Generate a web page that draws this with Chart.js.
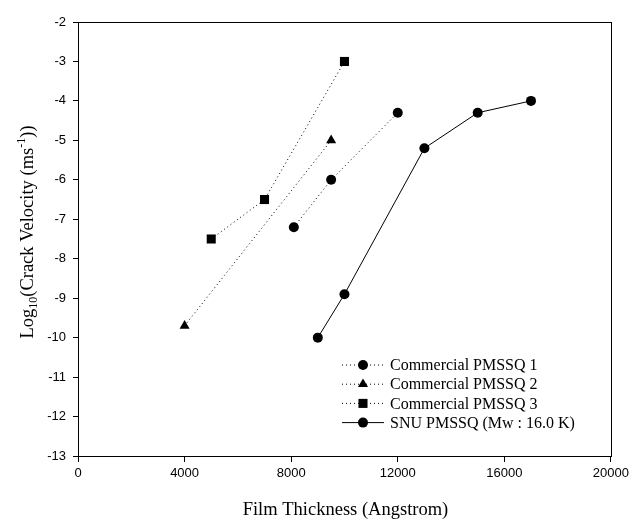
<!DOCTYPE html>
<html>
<head>
<meta charset="utf-8">
<script src="https://cdn.jsdelivr.net/npm/chart.js@4"></script>
<style>
  body { margin: 0; background: #fff; }
  canvas { display: block; }
</style>
</head>
<body>
<canvas id="c" width="633" height="519"></canvas>
<script>
// === Data ===
const c1X = [8100, 9500, 12000];
const c1Y = [-7.2, -6.0, -4.3];
const c2X = [4000, 9500];
const c2Y = [-9.7, -5.0];
const c3X = [5000, 7000, 10000];
const c3Y = [-7.5, -6.5, -3.0];
const snuX = [9000, 10000, 13000, 15000, 17000];
const snuY = [-10.0, -8.9, -5.2, -4.3, -4.0];

const seriesNames = [
  "Commercial PMSSQ 1",
  "Commercial PMSSQ 2",
  "Commercial PMSSQ 3",
  "SNU PMSSQ (Mw : 16.0 K)"
];

const xTicks = [0, 4000, 8000, 12000, 16000, 20000];
const yTicks = [-13, -12, -11, -10, -9, -8, -7, -6, -5, -4, -3, -2];

const pts = (xs, ys) => xs.map((x, i) => ({ x: x, y: ys[i] }));

const SERIF = '"Liberation Serif", "Times New Roman", serif';
const SANS = '"Liberation Sans", Arial, sans-serif';

function makeSet(name, data, style, radius, dashed) {
  return {
    label: name,
    data: data,
    borderColor: '#000',
    backgroundColor: '#000',
    borderWidth: 1,
    borderDash: dashed ? [1, 3] : [],
    pointStyle: style,
    pointRadius: radius,
    pointHoverRadius: radius,
    pointBorderWidth: 0,
    showLine: true,
    tension: 0
  };
}

// === Frame, titles and legend ===
const decor = {
  id: 'decor',
  afterDraw(chart) {
    const ctx = chart.ctx;
    const a = chart.chartArea;
    ctx.save();

    // box round the plot
    ctx.strokeStyle = '#000';
    ctx.lineWidth = 1;
    ctx.strokeRect(Math.round(a.left) + 0.5, Math.round(a.top) + 0.5,
      Math.round(a.right - a.left), Math.round(a.bottom - a.top));

    ctx.fillStyle = '#000';
    ctx.textBaseline = 'alphabetic';

    // x title
    ctx.font = '18.5px ' + SERIF;
    ctx.textAlign = 'center';
    ctx.fillText('Film Thickness (Angstrom)', (a.left + a.right) / 2 + 1, 515);

    // y title with sub/superscript
    const parts = [
      { t: 'Log', size: 18.5, dy: 0 },
      { t: '10', size: 12, dy: 4 },
      { t: '(Crack Velocity (ms', size: 18.5, dy: 0 },
      { t: '-1', size: 12, dy: -8 },
      { t: '))', size: 18.5, dy: 0 }
    ];
    let total = 0;
    parts.forEach(p => {
      ctx.font = p.size + 'px ' + SERIF;
      p.w = ctx.measureText(p.t).width;
      total += p.w;
    });
    ctx.translate(33, 232);
    ctx.rotate(-Math.PI / 2);
    ctx.textAlign = 'left';
    let px = -total / 2;
    parts.forEach(p => {
      ctx.font = p.size + 'px ' + SERIF;
      ctx.fillText(p.t, px, p.dy);
      px += p.w;
    });
    ctx.setTransform(1, 0, 0, 1, 0, 0);

    // legend
    const lx = 342, ly = 365, rowH = 19.2, sampleW = 42;
    ctx.font = '16px ' + SERIF;
    ctx.textBaseline = 'middle';
    chart.data.datasets.forEach((ds, i) => {
      const y = ly + i * rowH;
      ctx.beginPath();
      ctx.setLineDash(ds.borderDash);
      ctx.lineWidth = 1;
      ctx.strokeStyle = '#000';
      ctx.moveTo(lx, y);
      ctx.lineTo(lx + sampleW, y);
      ctx.stroke();
      ctx.setLineDash([]);
      Chart.helpers.drawPoint(ctx, {
        pointStyle: ds.pointStyle,
        radius: ds.pointRadius,
        borderWidth: 0
      }, lx + sampleW / 2, y);
      ctx.fillStyle = '#000';
      ctx.fillText(ds.label, 390, y + 1);
    });
    ctx.restore();
  }
};

new Chart(document.getElementById('c'), {
  type: 'scatter',
  data: {
    datasets: [
      makeSet(seriesNames[0], pts(c1X, c1Y), 'circle', 5, true),
      makeSet(seriesNames[1], pts(c2X, c2Y), 'triangle', 5.8, true),
      makeSet(seriesNames[2], pts(c3X, c3Y), 'rect', 6.4, true),
      makeSet(seriesNames[3], pts(snuX, snuY), 'circle', 5, false)
    ]
  },
  options: {
    responsive: false,
    animation: false,
    layout: { padding: { left: 0, top: 22, right: 22, bottom: 0 } },
    plugins: {
      legend: { display: false },
      tooltip: { enabled: false }
    },
    scales: {
      x: {
        type: 'linear',
        min: 0,
        max: 20000,
        afterBuildTicks: s => { s.ticks = xTicks.map(v => ({ value: v })); },
        afterFit: s => { s.height = 63; },
        ticks: {
          color: '#000',
          font: { family: SANS, size: 13 },
          padding: 4,
          maxRotation: 0,
          callback: v => String(v)
        },
        grid: { display: true, drawOnChartArea: false, drawTicks: true, tickLength: 6, color: '#000' },
        border: { display: true, color: '#000' }
      },
      y: {
        type: 'linear',
        min: -13,
        max: -2,
        afterBuildTicks: s => { s.ticks = yTicks.map(v => ({ value: v })); },
        afterFit: s => { s.width = 78; },
        ticks: {
          color: '#000',
          font: { family: SANS, size: 13 },
          padding: 7,
          callback: v => String(v)
        },
        grid: { display: true, drawOnChartArea: false, drawTicks: true, tickLength: 5, color: '#000' },
        border: { display: true, color: '#000' }
      }
    }
  },
  plugins: [decor]
});
</script>
</body>
</html>
